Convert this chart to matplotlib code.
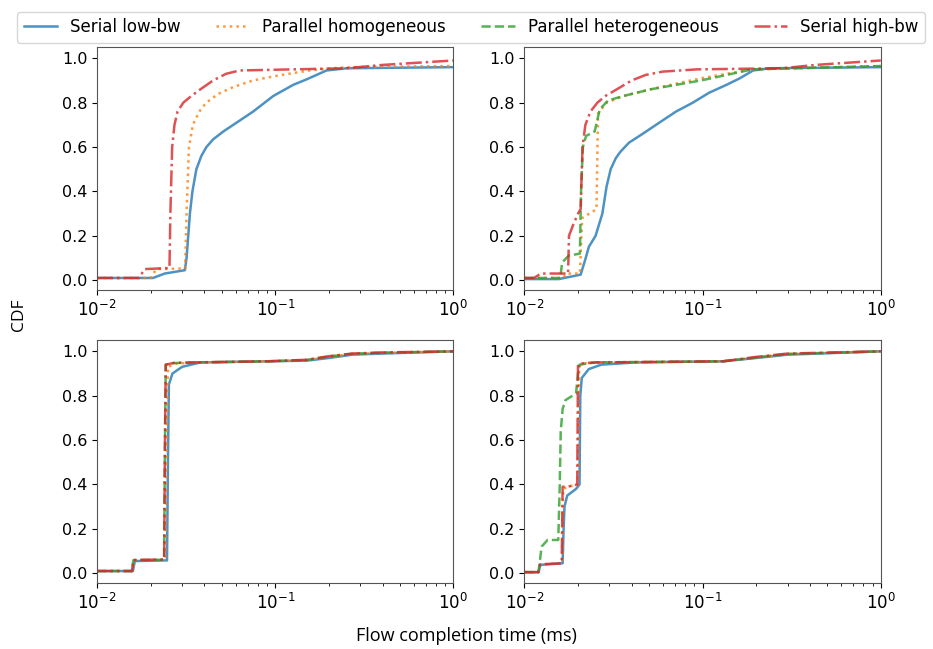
import matplotlib
matplotlib.use("Agg")
import matplotlib.pyplot as plt

# === DADOS ===
labels = ["Serial low-bw", "Parallel homogeneous", "Parallel heterogeneous", "Serial high-bw"]
colors = ["#1f77b4", "#ff7f0e", "#2ca02c", "#d62728"]
styles = ["-", ":", "--", "-."]

# painel superior esquerdo
tl_low_x = [0.010, 0.0206, 0.0240, 0.0311, 0.0318, 0.0332, 0.0343, 0.0361, 0.0385, 0.0411, 0.0449, 0.0511, 0.0607,
            0.0752, 0.0975, 0.126, 0.150, 0.194, 0.252, 1.0]
tl_low_y = [0.010, 0.010, 0.030, 0.045, 0.10, 0.30, 0.40, 0.50, 0.56, 0.60, 0.635, 0.67, 0.71,
            0.76, 0.83, 0.88, 0.905, 0.945, 0.955, 0.960]
tl_hom_x = [0.010, 0.0200, 0.0215, 0.0312, 0.0318, 0.0328, 0.0345, 0.0375, 0.0410, 0.0480, 0.0580, 0.0750, 0.100,
            0.155, 0.230, 0.400, 1.0]
tl_hom_y = [0.010, 0.010, 0.050, 0.053, 0.30, 0.60, 0.70, 0.76, 0.80, 0.84, 0.87, 0.90, 0.92,
            0.945, 0.958, 0.962, 0.965]
tl_hig_x = [0.010, 0.0172, 0.0185, 0.0255, 0.0258, 0.0264, 0.0272, 0.0283, 0.0305, 0.0338, 0.0380, 0.0448, 0.0530,
            0.0630, 0.250, 0.400, 1.0]
tl_hig_y = [0.010, 0.010, 0.050, 0.055, 0.30, 0.60, 0.70, 0.76, 0.80, 0.83, 0.86, 0.90, 0.93,
            0.945, 0.955, 0.970, 0.990]

# painel superior direito
tr_low_x = [0.010, 0.0156, 0.0207, 0.0221, 0.0230, 0.0251, 0.0274, 0.0289, 0.0305, 0.0326, 0.0347, 0.0387, 0.0462,
            0.0572, 0.0710, 0.0882, 0.109, 0.136, 0.162, 0.192, 0.239, 1.0]
tr_low_y = [0.005, 0.005, 0.025, 0.10, 0.15, 0.20, 0.30, 0.42, 0.50, 0.55, 0.58, 0.62, 0.66,
            0.71, 0.76, 0.80, 0.845, 0.88, 0.91, 0.945, 0.955, 0.960]
tr_hom_x = [0.010, 0.0165, 0.0172, 0.0205, 0.0211, 0.0254, 0.0259, 0.0270, 0.0290, 0.0360, 0.0510, 0.098, 0.190, 1.0]
tr_hom_y = [0.010, 0.010, 0.030, 0.030, 0.28, 0.32, 0.75, 0.77, 0.80, 0.83, 0.86, 0.91, 0.95, 0.965]
tr_het_x = [0.010, 0.0159, 0.0163, 0.0177, 0.0205, 0.0208, 0.0213, 0.0222, 0.0248, 0.0265, 0.0295, 0.0360, 0.0510,
            0.098, 0.190, 1.0]
tr_het_y = [0.010, 0.010, 0.080, 0.110, 0.120, 0.40, 0.60, 0.65, 0.67, 0.77, 0.81, 0.83, 0.86,
            0.90, 0.95, 0.965]
tr_hig_x = [0.010, 0.0113, 0.0124, 0.0176, 0.0178, 0.0188, 0.0200, 0.0207, 0.0212, 0.0220, 0.0235, 0.0257, 0.0285,
            0.0330, 0.0400, 0.0480, 0.0600, 0.0930, 0.280, 0.430, 1.0]
tr_hig_y = [0.010, 0.010, 0.030, 0.030, 0.20, 0.25, 0.30, 0.32, 0.60, 0.70, 0.76, 0.80, 0.83,
            0.86, 0.90, 0.925, 0.94, 0.95, 0.955, 0.97, 0.990]

# painel inferior esquerdo
bl_low_x = [0.010, 0.0159, 0.0163, 0.0247, 0.0250, 0.0253, 0.0265, 0.0300, 0.0380, 0.0900, 0.150, 0.200, 0.270, 0.400, 1.0]
bl_low_y = [0.010, 0.010, 0.055, 0.058, 0.50, 0.85, 0.90, 0.93, 0.95, 0.955, 0.958, 0.970, 0.985, 0.990, 1.000]
bl_hom_x = [0.010, 0.0158, 0.0162, 0.0242, 0.0245, 0.0250, 0.0280, 0.0350, 0.0900, 0.150, 0.200, 0.270, 0.400, 1.0]
bl_hom_y = [0.010, 0.010, 0.058, 0.060, 0.50, 0.93, 0.945, 0.95, 0.955, 0.960, 0.975, 0.988, 0.993, 1.000]
bl_het_x = [0.010, 0.0157, 0.0160, 0.0238, 0.0240, 0.0243, 0.0270, 0.0350, 0.0900, 0.150, 0.200, 0.270, 0.400, 1.0]
bl_het_y = [0.010, 0.010, 0.059, 0.061, 0.50, 0.94, 0.947, 0.95, 0.955, 0.961, 0.977, 0.989, 0.994, 1.000]
bl_hig_x = [0.010, 0.0157, 0.0160, 0.0238, 0.0240, 0.0243, 0.0270, 0.0350, 0.0900, 0.150, 0.200, 0.270, 0.400, 1.0]
bl_hig_y = [0.010, 0.010, 0.060, 0.062, 0.50, 0.94, 0.948, 0.95, 0.955, 0.962, 0.978, 0.990, 0.995, 1.000]

# painel inferior direito
br_low_x = [0.010, 0.0120, 0.0123, 0.0164, 0.0166, 0.0168, 0.0174, 0.0195, 0.0204, 0.0206, 0.0210, 0.0230, 0.0270,
            0.0420, 0.130, 0.200, 0.300, 1.0]
br_low_y = [0.005, 0.005, 0.038, 0.045, 0.200, 0.30, 0.35, 0.38, 0.40, 0.80, 0.88, 0.92, 0.94,
            0.95, 0.955, 0.970, 0.985, 1.000]
br_hom_x = [0.010, 0.0120, 0.0123, 0.0163, 0.0165, 0.0175, 0.0200, 0.0203, 0.0210, 0.0250, 0.130, 0.200, 0.300, 1.0]
br_hom_y = [0.005, 0.005, 0.040, 0.045, 0.380, 0.39, 0.40, 0.93, 0.945, 0.950, 0.955, 0.972, 0.988, 1.000]
br_het_x = [0.010, 0.0120, 0.0125, 0.0135, 0.0155, 0.0158, 0.0160, 0.0164, 0.0170, 0.0195, 0.0200, 0.0204, 0.0250,
            0.130, 0.200, 0.300, 1.0]
br_het_y = [0.005, 0.005, 0.120, 0.150, 0.150, 0.40, 0.64, 0.74, 0.78, 0.81, 0.90, 0.94, 0.95,
            0.955, 0.972, 0.988, 1.000]
br_hig_x = [0.010, 0.0120, 0.0123, 0.0162, 0.0164, 0.0175, 0.0198, 0.0200, 0.0205, 0.0250, 0.130, 0.200, 0.300, 1.0]
br_hig_y = [0.005, 0.005, 0.040, 0.045, 0.390, 0.39, 0.40, 0.94, 0.945, 0.950, 0.955, 0.975, 0.990, 1.000]

paineis = [
    [(tl_low_x, tl_low_y, 0), (tl_hom_x, tl_hom_y, 1), (tl_hig_x, tl_hig_y, 3)],
    [(tr_low_x, tr_low_y, 0), (tr_hom_x, tr_hom_y, 1), (tr_het_x, tr_het_y, 2), (tr_hig_x, tr_hig_y, 3)],
    [(bl_low_x, bl_low_y, 0), (bl_hom_x, bl_hom_y, 1), (bl_het_x, bl_het_y, 2), (bl_hig_x, bl_hig_y, 3)],
    [(br_low_x, br_low_y, 0), (br_hom_x, br_hom_y, 1), (br_het_x, br_het_y, 2), (br_hig_x, br_hig_y, 3)],
]

plt.rcParams.update({
    "font.size": 11,
    "xtick.labelsize": 12,
    "ytick.labelsize": 11.5,
    "axes.edgecolor": "#555555",
})

fig, axes = plt.subplots(2, 2, figsize=(9.33, 6.49), dpi=100)
fig.subplots_adjust(left=0.104, right=0.944, bottom=0.102, top=0.928, wspace=0.199, hspace=0.206)

for ax, series in zip(axes.flat, paineis):
    for xs, ys, k in series:
        ax.plot(xs, ys, color=colors[k], linestyle=styles[k], linewidth=1.8, alpha=0.8, label=labels[k])
    ax.set_xscale("log")
    ax.set_xlim(1e-2, 1e0)
    ax.set_ylim(-0.043, 1.052)

handles = [plt.Line2D([], [], color=colors[k], linestyle=styles[k], linewidth=1.8, alpha=0.8) for k in range(4)]
fig.legend(handles, labels, loc="upper center", ncol=4, bbox_to_anchor=(0.505, 0.995), fontsize=12,
           columnspacing=2.1)

fig.text(0.5, 0.02, "Flow completion time (ms)", ha="center", va="center", fontsize=13, family="Open Sans")
fig.text(0.02, 0.515, "CDF", ha="center", va="center", rotation=90, fontsize=12.5, family="Open Sans")

plt.savefig("out.png")
plt.close()
